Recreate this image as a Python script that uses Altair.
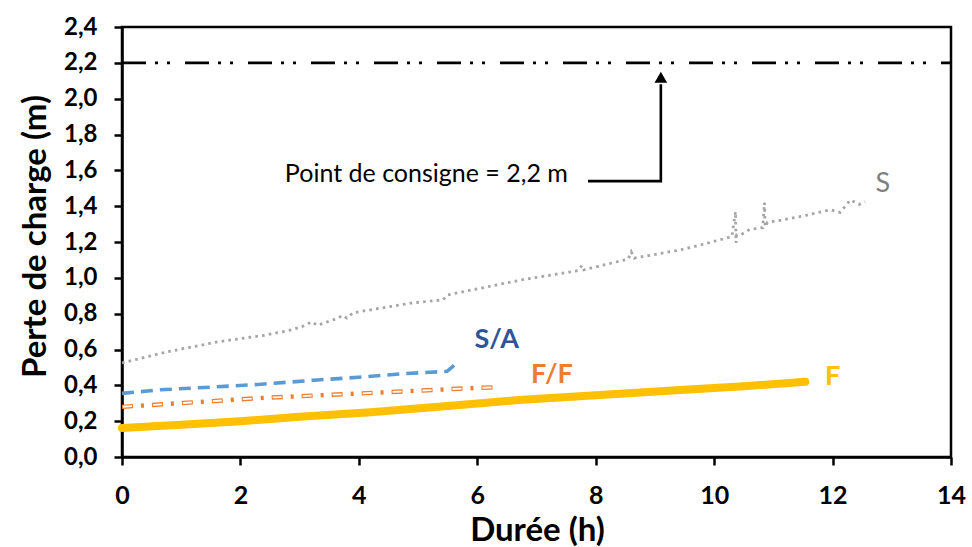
import altair as alt
import pandas as pd

FONT = "Lato"

# Head loss (m) versus run time (h) for each configuration
s_x = [0, 0.76, 1.62, 2.42, 2.87, 3.1, 3.2, 3.3, 3.65, 3.72, 3.8, 3.9, 4.9, 5.42, 5.5,
       6.77, 7.7, 7.77, 7.8, 8.55, 8.6, 8.65, 9.43, 9.73, 10.3, 10.36, 10.37, 10.38,
       10.45, 10.6, 10.82, 10.85, 10.86, 10.9, 11.1, 11.57, 11.96, 12.13, 12.3, 12.45, 12.55]
s_y = [0.525, 0.587, 0.643, 0.68, 0.71, 0.735, 0.755, 0.735, 0.775, 0.79, 0.775, 0.805,
       0.86, 0.877, 0.905, 0.99, 1.04, 1.07, 1.045, 1.105, 1.145, 1.11, 1.156, 1.18, 1.23,
       1.37, 1.195, 1.24, 1.24, 1.27, 1.28, 1.42, 1.285, 1.31, 1.32, 1.35, 1.38, 1.365,
       1.435, 1.41, 1.425]

sa_x = [0, 0.64, 1.5, 2.3, 3.3, 4.0, 4.75, 5.49, 5.64]
sa_y = [0.355, 0.375, 0.39, 0.405, 0.43, 0.445, 0.465, 0.478, 0.52]

ff_x = [0, 1.2, 2.38, 3.85, 5.0, 5.8, 6.38]
ff_y = [0.28, 0.305, 0.33, 0.352, 0.37, 0.383, 0.39]

f_x = [0, 1, 2, 3, 4.2, 5.5, 6.7, 8.07, 9.5, 10.5, 11.54]
f_y = [0.162, 0.18, 0.2, 0.225, 0.25, 0.285, 0.318, 0.346, 0.375, 0.395, 0.42]

setpoint = 2.2
setpoint_label = "Point de consigne = 2,2 m"

series_labels = ["S", "S/A", "F/F", "F"]
label_x = [12.85, 6.33, 7.26, 12.0]
label_y = [1.525, 0.655, 0.46, 0.447]
label_colors = ["#7F7F7F", "#2F5597", "#ED7D31", "#FFC000"]
label_weights = ["normal", "bold", "bold", "bold"]

x_ticks = list(range(0, 15, 2))
y_ticks = [round(0.2 * i, 1) for i in range(13)]

x_scale = alt.Scale(domain=[0, 14], nice=False)
y_scale = alt.Scale(domain=[0, 2.4], nice=False)

x_axis = alt.Axis(
    values=x_ticks, format="d", title="Durée (h)", grid=False,
    labelOverlap=False, labelFlush=False,
    domainColor="black", domainWidth=2.5, tickColor="black", tickWidth=2.5,
    tickSize=8, labelFont=FONT, labelFontSize=25, labelFontWeight="bold",
    labelColor="black", labelPadding=30, labelBaseline="middle",
    titleFont=FONT, titleFontSize=33,
    titleFontWeight="bold", titleColor="black", titleX=415, titleY=73,
    titleBaseline="middle", titleAlign="center",
)
y_axis = alt.Axis(
    values=y_ticks, labelExpr="replace(format(datum.value, '.1f'), '.', ',')",
    title="Perte de charge (m)", grid=False,
    labelOverlap=False, labelFlush=False,
    domainColor="black", domainWidth=2.5, tickColor="black", tickWidth=2.5,
    tickSize=8, labelFont=FONT, labelFontSize=24, labelFontWeight="bold",
    labelColor="black", labelPadding=17, titleFont=FONT, titleFontSize=33,
    titleFontWeight="bold", titleColor="black", titleX=-87, titleY=209,
    titleAngle=-90, titleBaseline="middle", titleAlign="center",
)

X = alt.X("t:Q", scale=x_scale, axis=x_axis)
Y = alt.Y("h:Q", scale=y_scale, axis=y_axis)


def series_df(xs, ys):
    return pd.DataFrame({"t": xs, "h": ys, "o": range(len(xs))})


def line(df, **kw):
    return alt.Chart(df).mark_line(**kw).encode(x=X, y=Y, order="o:O")


s_line = line(series_df(s_x, s_y), color="#A5A5A5", strokeWidth=2.8,
              strokeDash=[2.6, 4.2])
sa_line = line(series_df(sa_x, sa_y), color="#5B9BD5", strokeWidth=3.6,
               strokeDash=[12, 7])
ff_outer = line(series_df(ff_x, ff_y), color="#ED7D31", strokeWidth=4.4,
                strokeDash=[11, 8, 3, 8])
ff_inner = line(series_df(ff_x, ff_y), color="white", strokeWidth=1.8,
                strokeDash=[9, 21], strokeDashOffset=29)
f_line = line(series_df(f_x, f_y), color="#FFC000", strokeWidth=8,
              strokeCap="round")

# Setpoint line across the full duration range
sp_df = pd.DataFrame({"t": [0, 14], "h": [setpoint, setpoint], "o": [0, 1]})
sp_line = line(sp_df, color="black", strokeWidth=2.6,
               strokeDash=[24, 9, 3, 9, 3, 15])

# Elbow arrow from the annotation text up to the setpoint line
arrow_df = pd.DataFrame({"t": [7.87, 9.1, 9.1], "h": [1.54, 1.54, 2.08], "o": [0, 1, 2]})
arrow_line = line(arrow_df, color="black", strokeWidth=2.6)
arrow_head = alt.Chart(pd.DataFrame({"t": [9.1], "h": [2.12]})).mark_point(
    shape="triangle-up", filled=True, color="black", size=160, opacity=1
).encode(x=X, y=Y)

sp_text = alt.Chart(pd.DataFrame({"t": [7.53], "h": [1.58], "txt": [setpoint_label]})).mark_text(
    align="right", baseline="middle", font=FONT, fontSize=25, color="black"
).encode(x=X, y=Y, text="txt:N")

lab_df = pd.DataFrame({"t": label_x, "h": label_y, "txt": series_labels})
labels = [
    alt.Chart(lab_df.iloc[[i]]).mark_text(
        align="center", baseline="middle", font=FONT, fontSize=27,
        color=label_colors[i], fontWeight=label_weights[i]
    ).encode(x=X, y=Y, text="txt:N")
    for i in range(len(series_labels))
]

chart = alt.layer(
    s_line, sa_line, ff_outer, ff_inner, f_line, sp_line, arrow_line, arrow_head,
    sp_text, *labels
).properties(
    width=829, height=430,
    autosize=alt.AutoSizeParams(type="none"),
    padding={"left": 122, "top": 27, "right": 21, "bottom": 90},
    background="white",
).configure_view(stroke="black", strokeWidth=2.5)

chart.save("out.html", embed_options={"renderer": "svg", "actions": False})
